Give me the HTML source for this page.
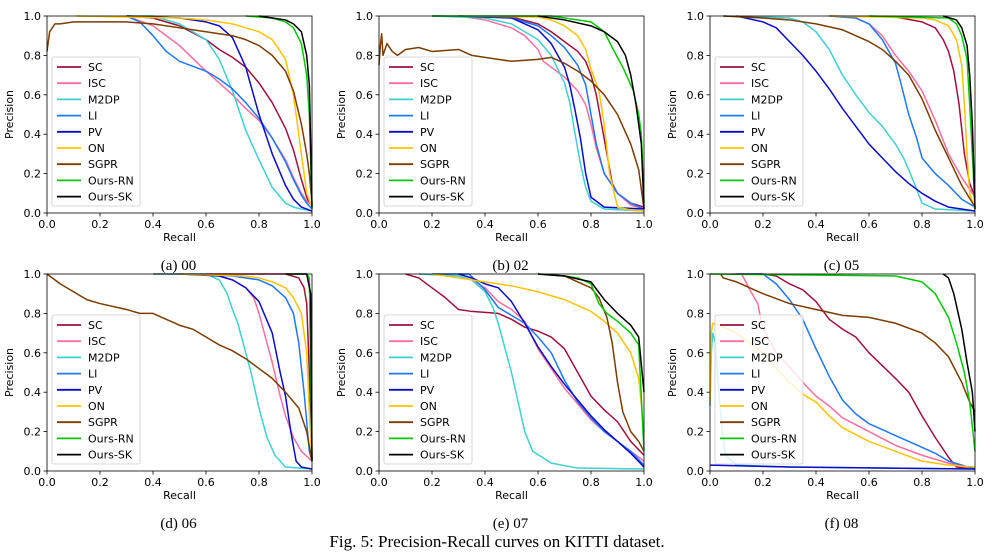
<!DOCTYPE html>
<html><head><meta charset="utf-8"><style>
html,body{margin:0;padding:0;background:#fff;width:994px;height:559px;overflow:hidden}
svg{display:block}
text{font-family:"DejaVu Sans","Liberation Sans",sans-serif}
.cap{font-family:"Liberation Serif",serif}
</style></head><body>
<svg id="fig" width="994" height="559" viewBox="0 0 994 559" xmlns="http://www.w3.org/2000/svg">
<text class="cap" x="497" y="547" text-anchor="middle" font-size="17">Fig. 5: Precision-Recall curves on KITTI dataset.</text>
</svg>
<script>
const seriesNames = ["SC","ISC","M2DP","LI","PV","ON","SGPR","Ours-RN","Ours-SK"];
const seriesColors = ["#a0103c","#ff6f9f","#40d0d0","#1f77ff","#0a0acc","#ffc400","#7b3c00","#00c800","#000000"];
const xTicks = [0,0.2,0.4,0.6,0.8,1.0];
const yTicks = [0,0.2,0.4,0.6,0.8,1.0];
const panelCaptions = ["(a) 00","(b) 02","(c) 05","(d) 06","(e) 07","(f) 08"];

// ---- (a) 00
const a_SC=[[0.3,1],[0.4,0.99],[0.5,0.95],[0.6,0.88],[0.65,0.83],[0.7,0.79],[0.75,0.74],[0.8,0.66],[0.85,0.56],[0.9,0.43],[0.93,0.32],[0.96,0.17],[0.98,0.08],[0.99,0.05],[1,0.04]];
const a_ISC=[[0.3,1],[0.4,0.95],[0.5,0.85],[0.6,0.72],[0.65,0.66],[0.7,0.6],[0.75,0.53],[0.8,0.47],[0.85,0.38],[0.9,0.27],[0.93,0.18],[0.96,0.1],[0.98,0.06],[1,0.04]];
const a_M2DP=[[0.3,1],[0.4,1],[0.5,0.96],[0.6,0.88],[0.65,0.78],[0.7,0.62],[0.75,0.42],[0.8,0.27],[0.85,0.13],[0.9,0.05],[0.93,0.03],[0.96,0.02],[1,0.01]];
const a_LI=[[0.3,1],[0.35,0.97],[0.4,0.9],[0.45,0.82],[0.5,0.77],[0.6,0.72],[0.65,0.68],[0.7,0.63],[0.75,0.56],[0.8,0.48],[0.85,0.38],[0.9,0.26],[0.93,0.17],[0.96,0.09],[0.98,0.05],[1,0.02]];
const a_PV=[[0.3,1],[0.5,0.99],[0.6,0.97],[0.65,0.95],[0.7,0.89],[0.75,0.74],[0.8,0.5],[0.85,0.3],[0.9,0.14],[0.93,0.07],[0.96,0.03],[1,0.01]];
const a_ON=[[0.11,1],[0.5,0.99],[0.6,0.98],[0.65,0.97],[0.7,0.96],[0.75,0.94],[0.8,0.92],[0.85,0.88],[0.9,0.78],[0.93,0.6],[0.96,0.3],[0.98,0.1],[1,0.03]];
const a_SGPR=[[0,0.82],[0.01,0.92],[0.03,0.96],[0.05,0.96],[0.1,0.97],[0.2,0.97],[0.3,0.97],[0.4,0.96],[0.5,0.94],[0.6,0.92],[0.7,0.9],[0.75,0.88],[0.8,0.85],[0.85,0.8],[0.9,0.72],[0.93,0.62],[0.96,0.45],[0.98,0.3],[0.99,0.2],[1,0.05]];
const a_RN=[[0.75,1],[0.8,0.995],[0.85,0.99],[0.9,0.97],[0.93,0.94],[0.96,0.86],[0.98,0.7],[0.99,0.5],[1,0.02]];
const a_SK=[[0.8,1],[0.85,0.99],[0.9,0.98],[0.93,0.96],[0.96,0.92],[0.98,0.8],[0.99,0.65],[1,0.03]];
// ---- (b) 02
const b_SC=[[0.2,1],[0.5,0.995],[0.6,0.96],[0.65,0.92],[0.7,0.87],[0.75,0.82],[0.78,0.77],[0.8,0.7],[0.82,0.6],[0.84,0.45],[0.86,0.3],[0.88,0.15],[0.9,0.1],[0.95,0.05],[1,0.03]];
const b_ISC=[[0.3,1],[0.4,0.98],[0.5,0.94],[0.55,0.9],[0.6,0.83],[0.62,0.77],[0.65,0.74],[0.7,0.69],[0.75,0.62],[0.78,0.55],[0.8,0.45],[0.82,0.33],[0.85,0.2],[0.9,0.1],[0.95,0.04],[1,0.02]];
const b_M2DP=[[0.2,1],[0.4,0.99],[0.5,0.96],[0.6,0.88],[0.65,0.8],[0.7,0.66],[0.72,0.56],[0.74,0.4],[0.76,0.25],[0.78,0.13],[0.8,0.06],[0.85,0.02],[1,0.01]];
const b_LI=[[0.3,1],[0.5,0.99],[0.6,0.95],[0.65,0.9],[0.7,0.84],[0.75,0.75],[0.78,0.65],[0.8,0.5],[0.82,0.35],[0.85,0.2],[0.9,0.1],[0.95,0.05],[1,0.02]];
const b_PV=[[0.3,1],[0.5,0.99],[0.6,0.93],[0.65,0.86],[0.7,0.74],[0.72,0.65],[0.74,0.52],[0.76,0.38],[0.78,0.2],[0.8,0.08],[0.85,0.03],[1,0.02]];
const b_ON=[[0.3,1],[0.6,0.995],[0.65,0.98],[0.7,0.95],[0.75,0.9],[0.78,0.83],[0.8,0.73],[0.83,0.62],[0.85,0.45],[0.87,0.2],[0.9,0.03],[0.95,0.015],[1,0.01]];
const b_SGPR=[[0,0.75],[0.005,0.85],[0.01,0.91],[0.015,0.8],[0.03,0.86],[0.05,0.82],[0.07,0.8],[0.1,0.83],[0.15,0.84],[0.2,0.82],[0.3,0.83],[0.35,0.8],[0.4,0.79],[0.45,0.78],[0.5,0.77],[0.6,0.78],[0.65,0.79],[0.7,0.76],[0.75,0.72],[0.8,0.67],[0.85,0.6],[0.9,0.5],[0.95,0.35],[0.98,0.22],[0.99,0.12],[1,0.02]];
const b_RN=[[0.2,1],[0.65,1],[0.7,0.99],[0.8,0.97],[0.85,0.92],[0.88,0.84],[0.92,0.74],[0.96,0.62],[0.98,0.5],[0.99,0.4],[1,0.05]];
const b_SK=[[0.6,1],[0.7,0.98],[0.8,0.95],[0.85,0.92],[0.9,0.87],[0.93,0.8],[0.95,0.7],[0.97,0.55],[0.99,0.35],[1,0.02]];
// ---- (c) 05
const c_SC=[[0.45,1],[0.7,0.995],[0.8,0.97],[0.85,0.94],[0.88,0.88],[0.9,0.82],[0.92,0.72],[0.94,0.55],[0.96,0.3],[0.98,0.15],[1,0.08]];
const c_ISC=[[0.45,1],[0.55,0.99],[0.6,0.96],[0.65,0.9],[0.7,0.8],[0.75,0.72],[0.8,0.62],[0.85,0.47],[0.9,0.3],[0.95,0.18],[1,0.08]];
const c_M2DP=[[0.05,1],[0.3,0.99],[0.35,0.97],[0.4,0.92],[0.45,0.83],[0.5,0.7],[0.55,0.6],[0.6,0.51],[0.65,0.44],[0.7,0.35],[0.73,0.28],[0.75,0.22],[0.78,0.12],[0.8,0.05],[0.85,0.02],[1,0.01]];
const c_LI=[[0.45,1],[0.55,0.99],[0.6,0.96],[0.65,0.88],[0.7,0.76],[0.72,0.66],[0.75,0.5],[0.78,0.38],[0.8,0.28],[0.85,0.2],[0.9,0.14],[0.95,0.07],[1,0.03]];
const c_PV=[[0.1,1],[0.2,0.97],[0.25,0.94],[0.3,0.87],[0.35,0.8],[0.4,0.72],[0.45,0.63],[0.5,0.53],[0.55,0.44],[0.6,0.35],[0.65,0.28],[0.7,0.21],[0.75,0.15],[0.8,0.1],[0.85,0.06],[0.9,0.03],[1,0.01]];
const c_ON=[[0.45,1],[0.8,0.99],[0.85,0.98],[0.9,0.95],[0.93,0.88],[0.95,0.75],[0.96,0.55],[0.97,0.3],[0.98,0.1],[1,0.02]];
const c_SGPR=[[0.05,1],[0.2,0.99],[0.3,0.98],[0.4,0.96],[0.5,0.93],[0.55,0.9],[0.6,0.87],[0.65,0.83],[0.7,0.77],[0.75,0.7],[0.8,0.58],[0.85,0.42],[0.9,0.28],[0.95,0.14],[1,0.03]];
const c_RN=[[0.6,1],[0.9,0.99],[0.93,0.96],[0.95,0.9],[0.97,0.78],[0.98,0.55],[0.99,0.3],[1,0.02]];
const c_SK=[[0.88,1],[0.93,0.98],[0.95,0.94],[0.97,0.85],[0.98,0.7],[0.99,0.45],[1,0.02]];
// ---- (d) 06
const d_SC=[[0.4,1],[0.9,1],[0.95,0.98],[0.97,0.93],[0.98,0.85],[0.99,0.5],[1,0.06]];
const d_ISC=[[0.4,1],[0.6,1],[0.65,0.99],[0.7,0.97],[0.75,0.93],[0.78,0.88],[0.8,0.8],[0.82,0.7],[0.85,0.55],[0.88,0.38],[0.9,0.28],[0.93,0.17],[0.96,0.1],[1,0.05]];
const d_M2DP=[[0.4,1],[0.6,1],[0.65,0.97],[0.68,0.9],[0.7,0.82],[0.72,0.75],[0.75,0.6],[0.77,0.5],[0.8,0.32],[0.83,0.17],[0.86,0.08],[0.9,0.02],[1,0.01]];
const d_LI=[[0.5,1],[0.7,0.99],[0.8,0.97],[0.85,0.94],[0.9,0.88],[0.93,0.8],[0.95,0.65],[0.97,0.4],[0.99,0.1],[1,0.05]];
const d_PV=[[0.5,1],[0.65,0.99],[0.7,0.97],[0.75,0.93],[0.8,0.86],[0.85,0.7],[0.88,0.5],[0.9,0.38],[0.92,0.2],[0.94,0.05],[0.96,0.02],[1,0.01]];
const d_ON=[[0.5,1],[0.75,0.99],[0.8,0.98],[0.85,0.96],[0.9,0.93],[0.93,0.88],[0.96,0.8],[0.98,0.6],[0.99,0.3],[1,0.05]];
const d_SGPR=[[0,1],[0.05,0.95],[0.1,0.91],[0.15,0.87],[0.2,0.85],[0.3,0.82],[0.35,0.8],[0.4,0.8],[0.45,0.77],[0.5,0.74],[0.55,0.72],[0.6,0.68],[0.65,0.64],[0.7,0.61],[0.75,0.57],[0.8,0.52],[0.85,0.47],[0.9,0.4],[0.95,0.32],[0.98,0.2],[1,0.05]];
const d_RN=[[0.9,1],[0.98,1],[0.99,0.98],[1,0.05]];
const d_SK=[[0.9,1],[0.98,1],[0.995,0.9],[1,0.05]];
// ---- (e) 07
const e_SC=[[0.1,1],[0.15,0.98],[0.2,0.93],[0.25,0.88],[0.3,0.82],[0.35,0.81],[0.45,0.8],[0.5,0.77],[0.55,0.73],[0.6,0.71],[0.65,0.68],[0.7,0.62],[0.75,0.5],[0.8,0.38],[0.85,0.31],[0.9,0.25],[0.95,0.15],[1,0.08]];
const e_ISC=[[0.2,1],[0.3,0.99],[0.35,0.97],[0.4,0.93],[0.45,0.86],[0.5,0.82],[0.55,0.76],[0.6,0.62],[0.65,0.52],[0.7,0.42],[0.75,0.34],[0.8,0.26],[0.85,0.2],[0.9,0.15],[0.95,0.1],[1,0.05]];
const e_M2DP=[[0.15,1],[0.3,0.99],[0.35,0.97],[0.4,0.91],[0.43,0.83],[0.45,0.75],[0.48,0.6],[0.5,0.5],[0.52,0.38],[0.55,0.2],[0.58,0.1],[0.65,0.04],[0.75,0.015],[1,0.01]];
const e_LI=[[0.2,1],[0.34,1],[0.4,0.92],[0.45,0.83],[0.5,0.79],[0.55,0.75],[0.6,0.68],[0.65,0.6],[0.7,0.46],[0.75,0.35],[0.8,0.27],[0.85,0.2],[0.9,0.15],[0.95,0.1],[1,0.03]];
const e_PV=[[0.3,1],[0.35,0.98],[0.4,0.95],[0.45,0.93],[0.5,0.86],[0.55,0.75],[0.6,0.63],[0.65,0.53],[0.7,0.44],[0.75,0.36],[0.8,0.28],[0.85,0.21],[0.9,0.15],[0.95,0.09],[1,0.02]];
const e_ON=[[0.2,1],[0.3,0.98],[0.4,0.96],[0.5,0.94],[0.6,0.91],[0.7,0.87],[0.8,0.81],[0.85,0.76],[0.9,0.7],[0.95,0.6],[0.98,0.47],[1,0.2]];
const e_SGPR=[[0.6,1],[0.7,0.99],[0.75,0.96],[0.8,0.93],[0.83,0.88],[0.86,0.78],[0.88,0.65],[0.9,0.45],[0.92,0.3],[0.95,0.2],[0.98,0.15],[1,0.1]];
const e_RN=[[0.6,1],[0.7,0.99],[0.75,0.98],[0.8,0.95],[0.83,0.85],[0.86,0.8],[0.9,0.76],[0.95,0.7],[0.98,0.64],[1,0.1]];
const e_SK=[[0.6,1],[0.7,0.99],[0.8,0.96],[0.85,0.87],[0.9,0.8],[0.95,0.74],[0.98,0.68],[1,0.4]];
// ---- (f) 08
const f_SC=[[0.1,1],[0.2,1],[0.25,0.99],[0.3,0.95],[0.35,0.92],[0.4,0.86],[0.45,0.77],[0.5,0.72],[0.55,0.68],[0.6,0.6],[0.7,0.47],[0.75,0.4],[0.8,0.28],[0.85,0.17],[0.9,0.07],[0.93,0.02],[1,0.01]];
const f_ISC=[[0.08,1],[0.12,1],[0.15,0.92],[0.18,0.85],[0.2,0.72],[0.25,0.6],[0.3,0.53],[0.35,0.45],[0.4,0.38],[0.45,0.33],[0.5,0.27],[0.6,0.2],[0.7,0.13],[0.8,0.08],[0.9,0.04],[1,0.01]];
const f_M2DP=[[0,0.33],[0.005,0.6],[0.01,0.7],[0.02,0.65],[0.03,0.45],[0.04,0.3],[0.05,0.15],[0.06,0.08],[0.1,0.03],[0.3,0.02],[1,0.01]];
const f_LI=[[0.1,1],[0.2,1],[0.25,0.95],[0.3,0.87],[0.35,0.77],[0.4,0.62],[0.45,0.48],[0.5,0.36],[0.55,0.29],[0.6,0.24],[0.7,0.18],[0.8,0.12],[0.85,0.09],[0.9,0.05],[1,0.01]];
const f_PV=[[0,0.03],[0.3,0.02],[1,0.01]];
const f_ON=[[0,0.35],[0.005,0.7],[0.01,0.75],[0.05,0.73],[0.1,0.7],[0.15,0.65],[0.2,0.6],[0.25,0.52],[0.3,0.45],[0.35,0.39],[0.4,0.35],[0.45,0.28],[0.5,0.22],[0.6,0.15],[0.7,0.1],[0.8,0.05],[0.9,0.03],[1,0.02]];
const f_SGPR=[[0.04,1],[0.05,0.98],[0.1,0.96],[0.15,0.93],[0.2,0.9],[0.3,0.85],[0.4,0.82],[0.5,0.79],[0.6,0.78],[0.7,0.75],[0.8,0.7],[0.85,0.65],[0.9,0.58],[0.95,0.45],[0.98,0.35],[1,0.3]];
const f_RN=[[0,1],[0.7,0.99],[0.8,0.96],[0.85,0.9],[0.9,0.78],[0.93,0.65],[0.96,0.5],[0.98,0.35],[1,0.1]];
const f_SK=[[0.88,1],[0.9,0.98],[0.92,0.9],[0.95,0.72],[0.97,0.55],[0.99,0.4],[1,0.2]];

const panelData = [
 [a_SC,a_ISC,a_M2DP,a_LI,a_PV,a_ON,a_SGPR,a_RN,a_SK],
 [b_SC,b_ISC,b_M2DP,b_LI,b_PV,b_ON,b_SGPR,b_RN,b_SK],
 [c_SC,c_ISC,c_M2DP,c_LI,c_PV,c_ON,c_SGPR,c_RN,c_SK],
 [d_SC,d_ISC,d_M2DP,d_LI,d_PV,d_ON,d_SGPR,d_RN,d_SK],
 [e_SC,e_ISC,e_M2DP,e_LI,e_PV,e_ON,e_SGPR,e_RN,e_SK],
 [f_SC,f_ISC,f_M2DP,f_LI,f_PV,f_ON,f_SGPR,f_RN,f_SK]
];

const NS="http://www.w3.org/2000/svg";
const svg=document.getElementById('fig');
function mk(tag,attrs,parent){const e=document.createElementNS(NS,tag);for(const k in attrs)e.setAttribute(k,attrs[k]);(parent||svg).appendChild(e);return e;}
const colX=[47,379,710], rowY=[16,274], W=265, H=197;

panelData.forEach((series,pi)=>{
  const L=colX[pi%3], T=rowY[Math.floor(pi/3)];
  const xs=v=>L+v*W, ys=v=>T+H-v*H;
  const g=mk('g',{});
  
  
  const clipId='clip'+pi;
  const cp=mk('clipPath',{id:clipId},g);
  mk('rect',{x:L-1,y:T-1,width:W+2,height:H+2},cp);
  xTicks.forEach(t=>{
    mk('line',{x1:xs(t),x2:xs(t),y1:T+H,y2:T+H+3.5,stroke:'#000','stroke-width':0.8},g);
    const tx=mk('text',{x:xs(t),y:T+H+15,'font-size':11,'text-anchor':'middle',fill:'#000'},g);
    tx.textContent=t.toFixed(1);
    
    
  });
  yTicks.forEach(t=>{
    mk('line',{x1:L-3.5,x2:L,y1:ys(t),y2:ys(t),stroke:'#000','stroke-width':0.8},g);
    const ty=mk('text',{x:L-6,y:ys(t)+4,'font-size':11,'text-anchor':'end',fill:'#000'},g);
    ty.textContent=t.toFixed(1);
    
    
  });
  const xl=mk('text',{x:L+W/2,y:T+H+28,'font-size':11,'text-anchor':'middle'},g);
  xl.textContent='Recall';
  
  
  const yl=mk('text',{x:0,y:0,'font-size':11,'text-anchor':'middle',transform:`translate(${L-34},${T+H/2}) rotate(-90)`},g);
  yl.textContent='Precision';
  
  
  const cg=mk('g',{'clip-path':`url(#${clipId})`},g);
  series.forEach((pts,si)=>{
    const d=pts.map((p,i)=>(i?'L':'M')+xs(p[0]).toFixed(2)+' '+ys(p[1]).toFixed(2)).join(' ');
    const path=mk('path',{d:d,fill:'none',stroke:seriesColors[si],'stroke-width':1.5,'stroke-linejoin':'round'},cg);
    
    
  });
  mk('rect',{x:L,y:T,width:W,height:H,fill:'none',stroke:'#000','stroke-width':0.8},g);
  const lg=mk('g',{},g);
  
  
  const lx=L+5, ly=T+41;
  mk('rect',{x:lx,y:ly,width:88,height:149,fill:'#fff','fill-opacity':0.8,stroke:'#ccc','stroke-width':0.8,rx:2},lg);
  seriesNames.forEach((n,si)=>{
    const yy=ly+10+si*16.2;
    const ln=mk('line',{x1:lx+5,x2:lx+29,y1:yy,y2:yy,stroke:seriesColors[si],'stroke-width':1.8},lg);
    
    
    const lt=mk('text',{x:lx+36,y:yy+4,'font-size':11},lg);
    lt.textContent=n;
    
    
  });
  const cap=mk('text',{x:L+W/2-1,y:T+H+57,'font-size':15,'text-anchor':'middle','class':'cap'},g);
  cap.textContent=panelCaptions[pi];
  
  
});
</script>
</body></html>
